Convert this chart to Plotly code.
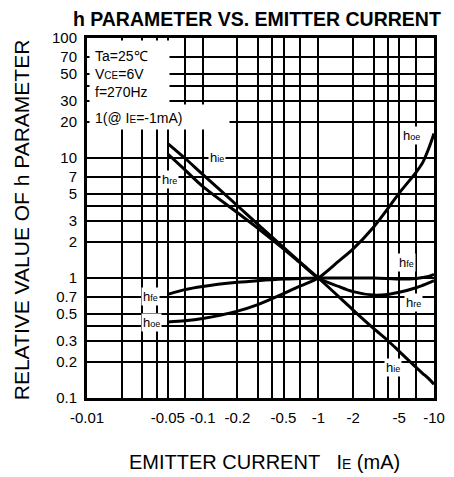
import numpy as np
import plotly.graph_objects as go

# ---- data (emitter current in mA, relative h-parameter values) ----
ie_ma = [-0.05, -0.07, -0.1, -0.2, -0.3, -0.5, -0.7, -1, -1.5, -2, -3, -4, -5, -7, -8, -9, -10]
h_ie = [13.2, 10.0, 7.3, 4.0, 2.8, 1.8, 1.35, 1.0, 0.70, 0.54, 0.38, 0.30, 0.245, 0.18, 0.16, 0.145, 0.13]
h_re = [10.8, 8.0, 5.8, 3.5, 2.6, 1.75, 1.33, 1.0, 0.85, 0.77, 0.72, 0.73, 0.76, 0.83, 0.87, 0.91, 0.95]
h_fe = [0.73, 0.80, 0.85, 0.92, 0.95, 0.98, 0.99, 1.0, 1.0, 1.0, 1.0, 0.99, 0.98, 0.99, 1.01, 1.03, 1.07]
h_oe = [0.43, 0.44, 0.46, 0.53, 0.60, 0.74, 0.86, 1.0, 1.38, 1.75, 2.65, 3.8, 5.1, 7.6, 9.2, 12.0, 16.0]

x_grid = [0.01, 0.02, 0.03, 0.04, 0.05, 0.07, 0.1, 0.2, 0.3, 0.4, 0.5, 0.7, 1, 2, 3, 4, 5, 7, 10]
x_labels = ["-0.01", "", "", "", "-0.05", "", "-0.1", "-0.2", "", "", "-0.5", "", "-1", "-2", "", "", "-5", "", "-10"]
y_grid = [0.1, 0.2, 0.3, 0.4, 0.5, 0.7, 1, 2, 3, 4, 5, 7, 10, 20, 30, 40, 50, 70, 100]
y_labels = ["0.1", "0.2", "0.3", "", "0.5", "0.7", "1", "2", "3", "", "5", "7", "10", "20", "30", "", "50", "70", "100"]

FONT = "Liberation Sans, Arial, sans-serif"
x_abs = np.abs(np.array(ie_ma))

fig = go.Figure()
for ys in (h_ie, h_re, h_fe, h_oe):
    fig.add_trace(go.Scatter(x=x_abs, y=ys, mode="lines",
                             line=dict(color="black", width=3, shape="spline", smoothing=0.8),
                             showlegend=False, hoverinfo="skip"))

def sub(main, small, size=8):
    return f"{main}<span style='font-size:{size}px'>{small}</span>"

annotations = []
# white boxes that hide the grid behind the condition text
annotations.append(dict(x=0.0056, y=0.994, xref="paper", yref="paper", text=" ",
                        xanchor="left", yanchor="top", width=79, height=72,
                        bgcolor="white", showarrow=False, borderpad=0))
annotations.append(dict(x=0.0056, y=0.817, xref="paper", yref="paper", text=" ",
                        xanchor="left", yanchor="top", width=139, height=24,
                        bgcolor="white", showarrow=False, borderpad=0))
# curve labels (log10 positions on the log axes)
curve_labels = [
    ("oe", 0.807, 1.19), ("ie", -0.877, 1.008), ("re", -1.288, 0.825),
    ("fe", -1.455, -0.15), ("oe", -1.439, -0.367), ("fe", 0.76, 0.133),
    ("re", 0.824, -0.20), ("ie", 0.648, -0.742),
]
for s, lx, ly in curve_labels:
    annotations.append(dict(x=lx, y=ly, xref="x", yref="y", text=sub("h", s, 9),
                            showarrow=False, bgcolor="white", borderpad=1,
                            font=dict(family=FONT, size=13, color="black")))
# conditions text
cond = [("Ta=25℃", 0.950), (sub("V", "CE", 10) + "=6V", 0.900), ("f=270Hz", 0.850),
        ("1(@ " + sub("I", "E", 10) + "=-1mA)", 0.778)]
for t, py in cond:
    annotations.append(dict(x=0.017, y=py, xref="paper", yref="paper", text=t,
                            xanchor="left", yanchor="middle", showarrow=False,
                            font=dict(family=FONT, size=14, color="black")))
# axis titles
annotations.append(dict(x=0.511, y=-0.178, xref="paper", yref="paper",
                        text="EMITTER CURRENT   " + sub("I", "E", 14) + " (mA)",
                        showarrow=False, xanchor="center", yanchor="middle",
                        font=dict(family=FONT, size=20, color="black")))
annotations.append(dict(x=-0.19, y=0.494, xref="paper", yref="paper",
                        text="RELATIVE VALUE OF h PARAMETER", textangle=-90,
                        showarrow=False, xanchor="center", yanchor="middle",
                        font=dict(family=FONT, size=21, color="black")))

fig.update_layout(
    width=446, height=469,
    margin=dict(l=79, r=9, t=30, b=79),
    paper_bgcolor="white", plot_bgcolor="white",
    title=dict(text="<b>h PARAMETER VS. EMITTER CURRENT</b>", x=0.558, xanchor="center",
               y=0.976, yanchor="middle", font=dict(family=FONT, size=19.5, color="black")),
    annotations=annotations,
    xaxis=dict(type="log", range=[-2, 1], tickmode="array", tickvals=x_grid, ticktext=x_labels,
               showgrid=True, gridcolor="black", gridwidth=2, showline=True, linecolor="black",
               linewidth=3, mirror=True, ticks="outside", ticklen=4, tickcolor="rgba(0,0,0,0)",
               tickfont=dict(family=FONT, size=15, color="black"), zeroline=False),
    yaxis=dict(type="log", range=[-1, 2], tickmode="array", tickvals=y_grid, ticktext=y_labels,
               showgrid=True, gridcolor="black", gridwidth=2, showline=True, linecolor="black",
               linewidth=3, mirror=True, ticks="outside", ticklen=4, tickcolor="rgba(0,0,0,0)",
               tickfont=dict(family=FONT, size=15, color="black"), zeroline=False),
)

fig.write_html("out.html")
